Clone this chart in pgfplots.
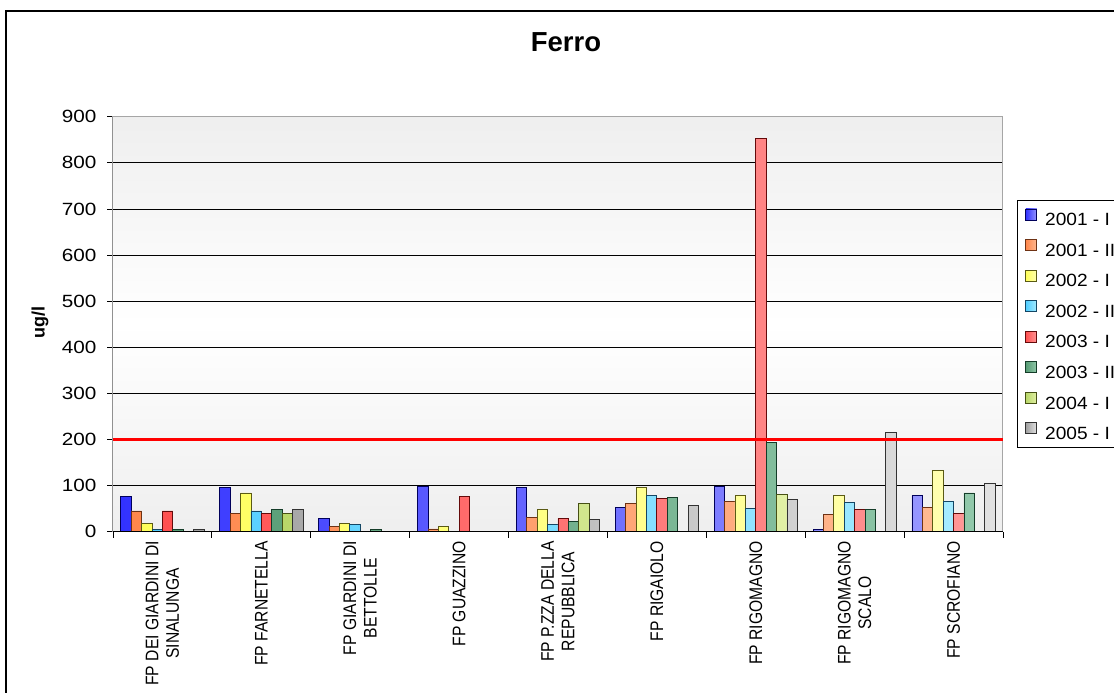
\documentclass[border=0pt]{standalone}
\usepackage{fontspec}
\setmainfont{Liberation Sans}
\newfontfamily\tickfont{Liberation Sans}[FakeStretch=1.17]
\newfontfamily\legfont{Liberation Sans}[FakeStretch=1.08]
\newfontfamily\xlabfont{Liberation Sans}[FakeStretch=0.86]
\usepackage{pgfplots}
\pgfplotsset{compat=1.18}
\definecolor{aL}{RGB}{50,50,255}\definecolor{aR}{RGB}{150,150,255}\definecolor{aD}{RGB}{0,0,90}
\definecolor{bL}{RGB}{255,135,75}\definecolor{bR}{RGB}{255,185,145}\definecolor{bD}{RGB}{110,50,20}
\definecolor{cL}{RGB}{255,255,90}\definecolor{cR}{RGB}{255,255,175}\definecolor{cD}{RGB}{90,90,20}
\definecolor{dL}{RGB}{80,205,255}\definecolor{dR}{RGB}{165,235,255}\definecolor{dD}{RGB}{20,70,100}
\definecolor{eL}{RGB}{255,80,80}\definecolor{eR}{RGB}{255,150,150}\definecolor{eD}{RGB}{100,10,10}
\definecolor{fL}{RGB}{85,155,115}\definecolor{fR}{RGB}{145,200,170}\definecolor{fD}{RGB}{20,60,40}
\definecolor{gL}{RGB}{185,215,105}\definecolor{gR}{RGB}{225,240,165}\definecolor{gD}{RGB}{70,80,20}
\definecolor{hL}{RGB}{160,160,160}\definecolor{hR}{RGB}{225,225,225}\definecolor{hD}{RGB}{50,50,50}
\begin{document}
\begin{tikzpicture}
\begin{axis}[
  at={(113pt,161.3pt)}, anchor=south west,
  scale only axis, width=890pt, height=415pt,
  ymin=0, ymax=900, ytick={0,100,...,900},
  xmin=-0.5, xmax=8.5,
  xtick={-0.5,0.5,...,8.5},
  x tick label as interval,
  xticklabels={{FP DEI GIARDINI DI\\SINALUNGA},{FP FARNETELLA},{FP GIARDINI DI\\BETTOLLE},{FP GUAZZINO},{FP P.ZZA DELLA\\REPUBBLICA},{FP RIGAIOLO},{FP RIGOMAGNO},{FP RIGOMAGNO\\SCALO},{FP SCROFIANO}},
  tick align=outside, major tick length=6pt, tick pos=left,
  tick style={black, line width=0.8pt},
  /pgf/number format/assume math mode=true,
  yticklabel style={font=\tickfont\fontsize{17.7}{20.5}\selectfont, xshift=-7pt},
  xticklabel style={font=\xlabfont\fontsize{18.2}{20.5}\selectfont, rotate=90, anchor=east, align=center},
  ymajorgrids, major grid style={black, line width=0.8pt},
  axis line style={draw=gray!70, line width=1pt},
  axis background/.style={top color=gray!13, bottom color=gray!13, middle color=white},
  ybar, bar width=10.4pt,
  title={Ferro},
  title style={at={(axis description cs:0.509,1.1655)}, anchor=center, font=\bfseries\fontsize{27.5}{30}\selectfont},
  ylabel={ug/l},
  ylabel style={at={(axis description cs:-0.082,0.503)}, anchor=center, font=\bfseries\fontsize{18}{21}\selectfont},
  legend image code/.code={\draw[#1,line width=0.8pt] (0pt,-0.5pt) rectangle (11pt,10.5pt);},
  legend cell align=left,
  legend style={at={(axis description cs:1.0157,0.799)}, anchor=north west,
    font=\legfont\fontsize{17.7}{20.5}\selectfont, draw=black, line width=0.8pt,
    inner xsep=8pt, inner ysep=8pt, row sep=13.3pt, column sep=8pt,
    nodes={inner sep=0pt, text height=12.7pt, text depth=0pt}},
]
\addplot[bar shift=-36.4pt, left color=aL, right color=aR, draw=aD, line width=0.8pt] coordinates {(0,76) (1,95) (2,29) (3,98) (4,95) (5,53) (6,99) (7,5) (8,78)};
\addplot[bar shift=-26pt, left color=bL, right color=bR, draw=bD, line width=0.8pt] coordinates {(0,45) (1,40) (2,11) (3,6) (4,31) (5,61) (6,66) (7,37) (8,53)};
\addplot[bar shift=-15.6pt, left color=cL, right color=cR, draw=cD, line width=0.8pt] coordinates {(0,17) (1,84) (2,17) (3,12) (4,48) (5,95) (6,78) (7,78) (8,132)};
\addplot[bar shift=-5.2pt, left color=dL, right color=dR, draw=dD, line width=0.8pt] coordinates {(0,5) (1,45) (2,15) (4,15) (5,78) (6,50) (7,64) (8,66)};
\addplot[bar shift=5.2pt, left color=eL, right color=eR, draw=eD, line width=0.8pt] coordinates {(0,45) (1,40) (3,76) (4,29) (5,73) (6,852) (7,48) (8,40)};
\addplot[bar shift=15.6pt, left color=fL, right color=fR, draw=fD, line width=0.8pt] coordinates {(0,5) (1,48) (2,5) (4,22) (5,75) (6,193) (7,48) (8,84)};
\addplot[bar shift=26pt, left color=gL, right color=gR, draw=gD, line width=0.8pt] coordinates {(1,39) (4,61) (6,81)};
\addplot[bar shift=36.4pt, left color=hL, right color=hR, draw=hD, line width=0.8pt] coordinates {(0,5) (1,48) (4,26) (5,56) (6,70) (7,215) (8,104)};
\legend{2001 - I,2001 - II,2002 - I,2002 - II,2003 - I,2003 - II,2004 - I,2005 - I}
\addplot[sharp plot, red, line width=3.5pt, forget plot] coordinates {(-0.5,200) (8.5,200)};
\draw[black, line width=1pt] (rel axis cs:0,0) -- (rel axis cs:0,1);
\draw[black, line width=1pt] (rel axis cs:0,0) -- (rel axis cs:1,0);
\end{axis}
\draw[line width=1.3pt] (6pt,-20pt) -- (6pt,682pt) -- (1200pt,682pt);
\pgfresetboundingbox
\useasboundingbox (0,0) rectangle (1114pt,693pt);
\end{tikzpicture}
\end{document}
